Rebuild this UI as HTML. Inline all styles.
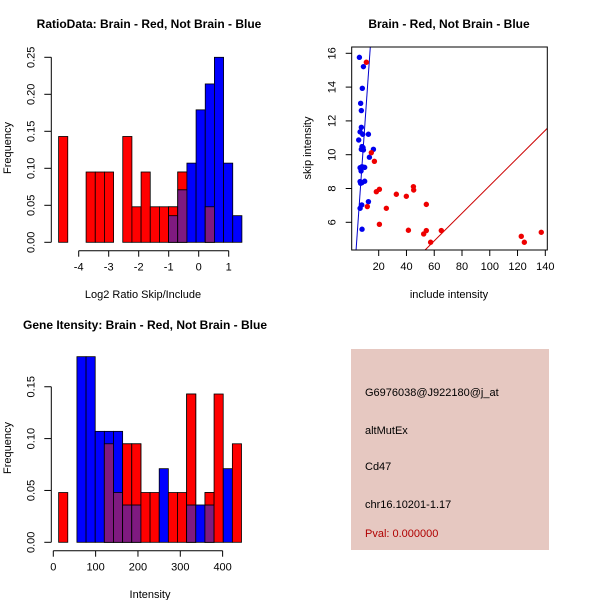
<!DOCTYPE html>
<html><head><meta charset="utf-8"><style>
html,body{margin:0;padding:0;background:#fff;}
svg{display:block;font-family:"Liberation Sans",Arial,sans-serif;}
</style></head><body>
<svg id="chart" width="600" height="600" viewBox="0 0 600 600" xmlns="http://www.w3.org/2000/svg">
<rect x="0" y="0" width="600" height="600" fill="#fff"/>
<g id="p1"></g>
<g id="p2"></g>
<g id="p3"></g>
<g id="p4">
<rect x="351" y="349" width="198" height="201" fill="#e6c8c1"/>
<text x="365" y="396" font-size="11">G6976038@J922180@j_at</text>
<text x="365" y="434" font-size="11">altMutEx</text>
<text x="365" y="470" font-size="11">Cd47</text>
<text x="365" y="508" font-size="11">chr16.10201-1.17</text>
<text x="365" y="537" font-size="11" fill="#b00000">Pval: 0.000000</text>
</g>
</svg>
<script>
// ---- Ratio histogram data ----
const ratioBinStart = -4.67;
const ratioBinWidth = 0.3055;
const ratioRed  = [0.143,0,0,0.095,0.095,0.095,0,0.143,0.048,0.095,0.048,0.048,0.048,0.095,0,0,0.048,0,0,0,0];
const ratioBlue = [0,0,0,0,0,0,0,0,0,0,0,0,0.036,0.071,0.107,0.179,0.214,0.25,0.107,0.036,0];
const ratioXTicks = [-4,-3,-2,-1,0,1];
const ratioYTicks = ["0.00","0.05","0.10","0.15","0.20","0.25"];
// ---- Gene intensity histogram data ----
const geneBinStart = 12.6;
const geneBinWidth = 21.6;
const geneRed  = [0.048,0,0,0,0,0.095,0.048,0.095,0.095,0.048,0.048,0,0.048,0.048,0.143,0,0.048,0.143,0,0.095];
const geneBlue = [0,0,0.179,0.179,0.107,0.107,0.107,0.036,0.036,0,0,0.071,0,0,0.036,0.036,0.036,0,0.071,0];
const geneXTicks = [0,100,200,300,400];
const geneYTicks = ["0.00","0.05","0.10","0.15"];
// ---- Scatter data ----
const blueInclude = [6.1,9.0,8.2,7.0,7.5,7.5,6.6,8.5,5.6,12.6,8.0,8.7,7.5,9.0,16.2,13.3,6.6,8.0,9.9,7.3,6.6,8.0,9.9,7.0,12.6,7.8,6.6,8.0];
const blueSkip    = [15.76,15.21,13.93,13.04,12.61,11.62,11.35,11.21,10.87,11.21,10.48,10.42,10.32,10.28,10.32,9.85,9.23,9.29,9.25,9.04,8.41,8.35,8.43,8.31,7.22,7.03,6.83,5.59];
const redInclude  = [11.1,14.7,16.9,18.3,20.5,11.8,25.5,20.5,32.7,39.9,45.0,45.2,54.3,41.4,52.4,54.3,57.4,65.1,122.7,124.9,137.1];
const redSkip     = [15.47,10.12,9.61,7.81,7.95,6.93,6.83,5.88,7.66,7.54,8.11,7.91,7.06,5.53,5.31,5.51,4.82,5.51,5.17,4.82,5.41];
const fitIntercepts = [0.024,-0.009];
const fitSlopes = [1.172,0.0818];
const scatterXTicks = [20,40,60,80,100,120,140];
const scatterYTicks = [6,8,10,12,14,16];

const NS="http://www.w3.org/2000/svg";
function mk(parent,tag,attrs,text){const e=document.createElementNS(NS,tag);for(const k in attrs)e.setAttribute(k,attrs[k]);if(text!==undefined)e.textContent=text;parent.appendChild(e);return e;}

function histogram(g, o){
  const sx=v=>o.x0+(v-o.d0)*o.kx, sy=v=>o.y0-v*o.ky;
  const n=Math.max(o.red.length,o.blue.length);
  for(let i=0;i<n;i++){
    const a=o.start+i*o.width, b=a+o.width;
    const r=o.red[i]||0, bl=o.blue[i]||0;
    if(r>0){const e=mk(g,'rect',{x:sx(a),y:sy(r),width:sx(b)-sx(a),height:sy(0)-sy(r),fill:'#ff0000',stroke:'#000','stroke-width':0.8});
      
      }
    if(bl>0){const e=mk(g,'rect',{x:sx(a),y:sy(bl),width:sx(b)-sx(a),height:sy(0)-sy(bl),fill:'#0000ff',stroke:'#000','stroke-width':0.8});
      
      }
    if(r>0&&bl>0){const m=Math.min(r,bl);const e=mk(g,'rect',{x:sx(a),y:sy(m),width:sx(b)-sx(a),height:sy(0)-sy(m),fill:'#7f1a80',stroke:'#000','stroke-width':0.8});
      if(r>bl)mk(g,'rect',{x:sx(a),y:sy(r),width:sx(b)-sx(a),height:sy(m)-sy(r),fill:'#ff0000',stroke:'#000','stroke-width':0.8});
      
      }
  }
  const xa=mk(g,'g',{});
  
  
  mk(xa,'line',{x1:sx(o.xt[0]),x2:sx(o.xt[o.xt.length-1]),y1:o.xay,y2:o.xay,stroke:'#000'});
  o.xt.forEach(t=>{mk(xa,'line',{x1:sx(t),x2:sx(t),y1:o.xay,y2:o.xay+6,stroke:'#000'});
    const l=mk(xa,'text',{x:sx(t),y:o.xay+20,'font-size':11,'text-anchor':'middle'},String(t));
    
    });
  const ya=mk(g,'g',{});
  
  
  const ymax=parseFloat(o.yt[o.yt.length-1]);
  mk(ya,'line',{x1:o.yax,x2:o.yax,y1:sy(0),y2:sy(ymax),stroke:'#000'});
  o.yt.forEach(t=>{const v=parseFloat(t);mk(ya,'line',{x1:o.yax,x2:o.yax-7,y1:sy(v),y2:sy(v),stroke:'#000'});
    const lx=o.yax-17;
    const l=mk(ya,'text',{x:lx,y:sy(v),'font-size':11,'text-anchor':'middle',transform:`rotate(-90 ${lx} ${sy(v)})`},t);
    
    });
  const yl=mk(g,'text',{x:11,y:o.ylabY,'font-size':11,'text-anchor':'middle',transform:`rotate(-90 11 ${o.ylabY})`},'Frequency');
  
  
  const xl=mk(g,'text',{x:o.xlabX,y:o.xlabY,'font-size':11,'text-anchor':'middle'},o.xlab);
  
  
  const ti=mk(g,'text',{x:o.titleX,y:o.titleY,'font-size':12,'font-weight':'bold','text-anchor':'middle'},o.title);
  
  
}

histogram(document.getElementById('p1'),{x0:78.7,d0:-4,kx:30,y0:242.3,ky:740,start:ratioBinStart,width:ratioBinWidth,red:ratioRed,blue:ratioBlue,
  xt:ratioXTicks,yt:ratioYTicks,xay:250.7,yax:51.3,ylabY:148,xlabX:143,xlabY:298,xlab:'Log2 Ratio Skip/Include',titleX:149,titleY:28,title:'RatioData: Brain - Red, Not Brain - Blue'});
histogram(document.getElementById('p3'),{x0:53.3,d0:0,kx:0.4233,y0:542.3,ky:1037,start:geneBinStart,width:geneBinWidth,red:geneRed,blue:geneBlue,
  xt:geneXTicks,yt:geneYTicks,xay:550.7,yax:51.3,ylabY:448,xlabX:150,xlabY:598,xlab:'Intensity',titleX:145,titleY:329,title:'Gene Itensity: Brain - Red, Not Brain - Blue'});

(function(){
  const g=document.getElementById('p2');
  const L=351.7,R=547.3,T=47,B=250;
  const sx=v=>378.7+(v-20)*(166.6/120), sy=v=>222.3-(v-6)*16.9;
  const ymin=4.36,ymax=16.4;
  const clip=mk(g,'clipPath',{id:'sc'});mk(clip,'rect',{x:L,y:T,width:R-L,height:B-T});
  const colors=['#0000cc','#cc0000'];
  fitSlopes.forEach((b,i)=>{const a=fitIntercepts[i];
    const ln=mk(g,'line',{x1:sx((ymin-a)/b),y1:sy(ymin),x2:sx((ymax-a)/b),y2:sy(ymax),stroke:colors[i],'stroke-width':1,'clip-path':'url(#sc)'});
    
    });
  blueInclude.forEach((x,i)=>{const c=mk(g,'circle',{cx:sx(x),cy:sy(blueSkip[i]),r:2.7,fill:'#0000ee'});
    
    });
  redInclude.forEach((x,i)=>{const c=mk(g,'circle',{cx:sx(x),cy:sy(redSkip[i]),r:2.7,fill:'#ee0000'});
    
    });
  const f=mk(g,'rect',{x:L,y:T,width:R-L,height:B-T,fill:'none',stroke:'#000'});
  
  
  scatterXTicks.forEach(t=>{mk(g,'line',{x1:sx(t),x2:sx(t),y1:B,y2:B+6,stroke:'#000'});
    const l=mk(g,'text',{x:sx(t),y:B+20,'font-size':11,'text-anchor':'middle'},String(t));
    
    });
  scatterYTicks.forEach(t=>{mk(g,'line',{x1:L,x2:L-6,y1:sy(t),y2:sy(t),stroke:'#000'});
    const lx=L-16;
    const l=mk(g,'text',{x:lx,y:sy(t),'font-size':11,'text-anchor':'middle',transform:`rotate(-90 ${lx} ${sy(t)})`},String(t));
    
    });
  const xl=mk(g,'text',{x:449,y:298,'font-size':11,'text-anchor':'middle'},'include intensity');
  
  
  const yl=mk(g,'text',{x:311,y:148,'font-size':11,'text-anchor':'middle',transform:'rotate(-90 311 148)'},'skip intensity');
  
  
  const ti=mk(g,'text',{x:449,y:28,'font-size':12,'font-weight':'bold','text-anchor':'middle'},'Brain - Red, Not Brain - Blue');
  
  
})();
</script>
</body></html>
